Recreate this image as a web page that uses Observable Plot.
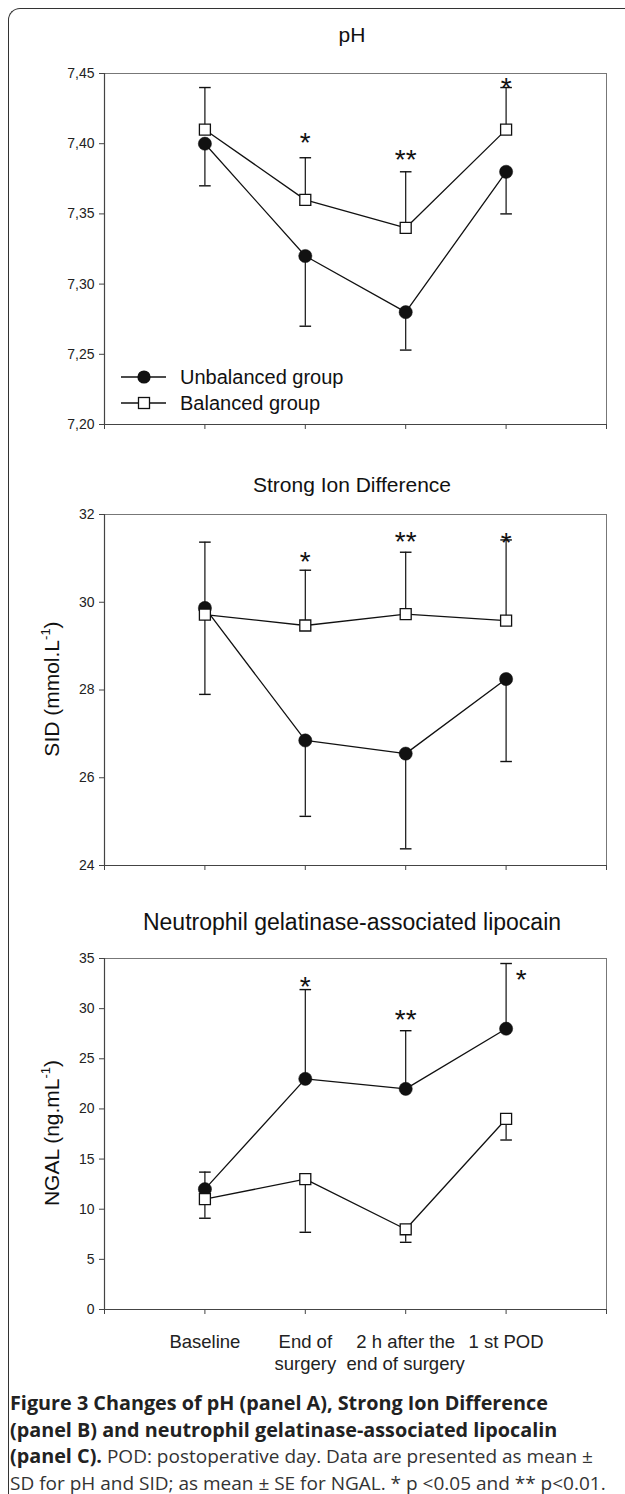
<!DOCTYPE html>
<html>
<head>
<meta charset="utf-8">
<script src="https://cdn.jsdelivr.net/npm/d3@7"></script>
<script src="https://cdn.jsdelivr.net/npm/@observablehq/plot@0.6"></script>
<style>
  body { margin: 0; background: #fff; }
  #root { position: relative; width: 625px; height: 1494px; overflow: hidden; font-family: "Liberation Sans", Arial, sans-serif; color: #111; }
  .border { position: absolute; left: 8px; top: 8px; width: 700px; height: 1600px; border-left: 1.6px solid #333; border-top: 1.6px solid #333; border-top-left-radius: 12px; }
  .title { position: absolute; left: 100px; width: 504px; text-align: center; font-size: 21px; line-height: 24px; height: 24px; white-space: nowrap; }
  .panel { position: absolute; left: 0; top: 0; }
  .ylab { position: absolute; transform: translate(-50%, -50%) rotate(-90deg); white-space: nowrap; font-size: 21px; }
  .ylab sup { font-size: 13px; vertical-align: 9px; line-height: 0; }
  .legend { position: absolute; left: 118px; font-size: 20px; }
  .legend .row { display: flex; align-items: center; height: 26px; }
  .legend svg { margin-right: 12px; }
  .caption { position: absolute; left: 10px; top: 1390px; width: 614px; font-family: "Open Sans", sans-serif; font-size: 19px; line-height: 26.5px; color: #333; white-space: nowrap; }
  .caption b { color: #222; font-size: 19.8px; }
</style>
</head>
<body>
<div id="root">
  <div class="border"></div>
</div>
<script>
// ---------- data ----------
const categories = ["Baseline", "End of\nsurgery", "2 h after the\nend of surgery", "1 st POD"];
const groups = ["Unbalanced group", "Balanced group"];
const stars = ["", "*", "**", "*"];

// Panel A: pH (mean ± SD)
const phUnbalanced = [7.40, 7.32, 7.28, 7.38];
const phUnbalancedErr = [7.37, 7.27, 7.253, 7.35];
const phBalanced = [7.41, 7.36, 7.34, 7.41];
const phBalancedErr = [7.44, 7.39, 7.38, 7.44];
const phStarY = [null, 7.406, 7.394, 7.445];
const phTicks = [7.20, 7.25, 7.30, 7.35, 7.40, 7.45];

// Panel B: Strong Ion Difference (mean ± SD)
const sidUnbalanced = [29.87, 26.85, 26.55, 28.25];
const sidUnbalancedErr = [27.9, 25.12, 24.38, 26.37];
const sidBalanced = [29.72, 29.47, 29.73, 29.58];
const sidBalancedErr = [31.37, 30.73, 31.14, 31.42];
const sidStarY = [null, 31.10, 31.56, 31.54];
const sidTicks = [24, 26, 28, 30, 32];

// Panel C: NGAL (mean ± SE)
const ngalUnbalanced = [12, 23, 22, 28];
const ngalUnbalancedErr = [13.7, 31.9, 27.8, 34.5];
const ngalBalanced = [11, 13, 8, 19];
const ngalBalancedErr = [9.1, 7.7, 6.7, 16.9];
const ngalStarY = [null, 33.0, 29.7, 33.7];
const ngalTicks = [0, 5, 10, 15, 20, 25, 30, 35];

// ---------- drawing ----------
const root = document.getElementById("root");
const INK = "#111";
const capSymbol = {
  draw(ctx, size) {
    const w = Math.sqrt(size / Math.PI);
    ctx.moveTo(-w, 0);
    ctx.lineTo(w, 0);
  }
};

function panel({u, uErr, b, bErr, starY, ticks, fmt, top, marginTop, marginBottom, showX, lastStarDx}) {
  const rows = categories.map((c, i) => ({
    x: i + 1, cat: c, u: u[i], uErr: uErr[i], b: b[i], bErr: bErr[i], star: stars[i], starY: starY[i]
  }));
  const yDomain = [ticks[0], ticks[ticks.length - 1]];
  const starRows = rows.filter(d => d.star);
  const plot = Plot.plot({
    width: 625,
    height: marginTop + 351 + marginBottom,
    marginLeft: 104,
    marginRight: 19,
    marginTop,
    marginBottom,
    style: { fontFamily: "'Liberation Sans', Arial, sans-serif", fontSize: "14px", color: "#222", background: "transparent", overflow: "visible" },
    x: { type: "linear", domain: [0, 5] },
    y: { domain: yDomain },
    marks: [
      Plot.frame({ stroke: "#777", strokeWidth: 1 }),
      Plot.ruleX([0], { stroke: "#444", strokeWidth: 1.2 }),
      Plot.ruleY([yDomain[0]], { stroke: "#444", strokeWidth: 1.2 }),
      Plot.axisY({ ticks, tickSize: 5, tickPadding: 5, tickFormat: fmt, label: null, stroke: "#444", fontSize: 14 }),
      Plot.axisX({
        ticks: [0, 1, 2, 3, 4, 5], tickSize: 5, tickPadding: 18, label: null, stroke: "#444",
        fontSize: 18.5, lineHeight: 1.2,
        tickFormat: d => (showX ? (categories[d - 1] ?? "") : "")
      }),
      // error bars
      Plot.ruleX(rows, { x: "x", y1: "u", y2: "uErr", stroke: INK, strokeWidth: 1.2 }),
      Plot.ruleX(rows, { x: "x", y1: "b", y2: "bErr", stroke: INK, strokeWidth: 1.2 }),
      Plot.dot(rows, { x: "x", y: "uErr", symbol: capSymbol, r: 5.8, stroke: INK, strokeWidth: 1.4 }),
      Plot.dot(rows, { x: "x", y: "bErr", symbol: capSymbol, r: 5.8, stroke: INK, strokeWidth: 1.4 }),
      // lines
      Plot.line(rows, { x: "x", y: "u", stroke: INK, strokeWidth: 1.3 }),
      Plot.line(rows, { x: "x", y: "b", stroke: INK, strokeWidth: 1.3 }),
      // markers
      Plot.dot(rows, { x: "x", y: "u", r: 6.6, fill: INK, stroke: INK, strokeWidth: 0.5 }),
      Plot.dot(rows, { x: "x", y: "b", symbol: "square", r: 6.2, fill: "white", stroke: INK, strokeWidth: 1.3 }),
      // significance stars
      Plot.text(starRows.filter(d => !(lastStarDx && d.x === 4)), { x: "x", y: "starY", text: "star", fontSize: 28, dy: 8, fill: INK }),
      lastStarDx ? Plot.text(starRows.filter(d => d.x === 4), { x: "x", y: "starY", text: "star", fontSize: 28, dy: 8, dx: lastStarDx, fill: INK }) : null
    ]
  });
  plot.classList.add("panel");
  plot.style.top = top + "px";
  root.appendChild(plot);
}

function addDiv(cls, html, styles) {
  const d = document.createElement("div");
  d.className = cls;
  d.innerHTML = html;
  Object.assign(d.style, styles || {});
  root.appendChild(d);
  return d;
}

const commaFmt = d => d3.format(".2f")(d).replace(".", ",");

// Panel A
addDiv("title", "pH", { top: "23px" });
panel({ u: phUnbalanced, uErr: phUnbalancedErr, b: phBalanced, bErr: phBalancedErr, starY: phStarY,
  ticks: phTicks, fmt: commaFmt, top: 50, marginTop: 23, marginBottom: 16, showX: false });

// legend for panel A
const legend = addDiv("legend", "", { top: "364px" });
const sw = (kind) => `<svg width="50" height="16" viewBox="0 0 50 16"><line x1="3" y1="8" x2="48" y2="8" stroke="${INK}" stroke-width="1.3"/>` +
  (kind === 0 ? `<circle cx="26" cy="8" r="6.6" fill="${INK}"/>` : `<rect x="20.5" y="2.5" width="11" height="11" fill="white" stroke="${INK}" stroke-width="1.3"/>`) + `</svg>`;
legend.innerHTML = groups.map((g, i) => `<div class="row">${sw(i)}<span>${g}</span></div>`).join("");

// Panel B
addDiv("title", "Strong Ion Difference", { top: "473px" });
panel({ u: sidUnbalanced, uErr: sidUnbalancedErr, b: sidBalanced, bErr: sidBalancedErr, starY: sidStarY,
  ticks: sidTicks, fmt: d3.format("d"), top: 490, marginTop: 24, marginBottom: 16, showX: false });
addDiv("ylab", "SID (mmol.L<sup>-1</sup>)", { left: "52px", top: "689px" });

// Panel C
addDiv("title", "Neutrophil gelatinase-associated lipocain", { top: "910px", fontSize: "23px" });
panel({ u: ngalUnbalanced, uErr: ngalUnbalancedErr, b: ngalBalanced, bErr: ngalBalancedErr, starY: ngalStarY,
  ticks: ngalTicks, fmt: d3.format("d"), top: 935, marginTop: 23, marginBottom: 90, showX: true, lastStarDx: 15 });
addDiv("ylab", "NGAL (ng.mL<sup>-1</sup>)", { left: "52px", top: "1133px" });

// Caption
addDiv("caption",
  "<b>Figure 3 Changes of pH (panel A), Strong Ion Difference</b><br>" +
  "<b>(panel B) and neutrophil gelatinase-associated lipocalin</b><br>" +
  "<b>(panel C).</b> POD: postoperative day. Data are presented as mean ±<br>" +
  "SD for pH and SID; as mean ± SE for NGAL. * p &lt;0.05 and ** p&lt;0.01.");
</script>
</body>
</html>
